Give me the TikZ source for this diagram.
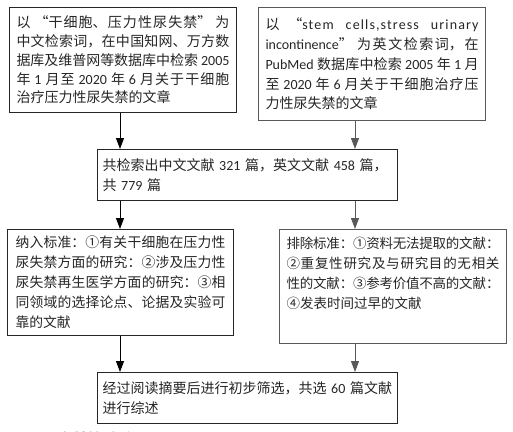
\documentclass[tikz,border=0pt]{standalone}
\usepackage{fontspec}
\setmainfont{Noto Sans CJK SC}
\newfontfamily\latf{Carlito}
\newfontfamily\latsp[LetterSpace=8]{Carlito}
\newcommand\mylat[1]{{\latf #1}}
\newcommand\mylatsp[1]{{\latsp #1}}
\usetikzlibrary{arrows.meta}
\XeTeXlinebreaklocale "zh"
\XeTeXlinebreakskip=0pt plus 2pt minus 1pt
\tikzset{
  box/.style={draw=black!85, line width=1pt, anchor=north west, inner ysep=0pt,
    align=justify, text=black!85},
  boxr/.style={box, draw=black!65},
  arr/.style={-{Triangle[length=11pt,width=8pt]}, line width=1pt, draw=black},
  arrr/.style={arr, draw=black!65},
}
\begin{document}
\begin{tikzpicture}[x=1pt,y=-1pt]
\fill[white] (0,0) rectangle (513,431);
\useasboundingbox (0,0) rectangle (513,431);
\coordinate (xl) at (120,0);
\coordinate (xr) at (355,0);

\node[box, inner xsep=7pt, text width=213pt, minimum width=227pt, minimum height=105pt,
  font=\fontsize{14}{18.8}\selectfont] (b1) at (9,7)
  {以 “干细胞、压力性尿失禁” 为\linebreak 中文检索词，在中国知网、万方数\linebreak 据库及维普网等数据库中检索 \mylat{2005}\linebreak 年 \mylat{1} 月至 \mylat{2020} 年 \mylat{6} 月关于干细胞\linebreak 治疗压力性尿失禁的文章};

\node[boxr, inner xsep=7pt, text width=213pt, minimum width=227pt, minimum height=113pt,
  font=\fontsize{14}{19.75}\selectfont] (b2) at (258,7)
  {以 “\mylatsp{stem cells,stress urinary}\linebreak \mylat{incontinence}” 为英文检索词，在\linebreak \mylat{PubMed} 数据库中检索 \mylat{2005} 年 \mylat{1} 月\linebreak 至 \mylat{2020} 年 \mylat{6} 月关于干细胞治疗压\linebreak 力性尿失禁的文章};

\node[box, align=left, inner xsep=5pt, text width=290pt, minimum width=300pt, minimum height=51pt,
  font=\fontsize{14}{20}\selectfont] (b3) at (97,149)
  {共检索出中文文献 \mylat{321} 篇，英文文献 \mylat{458} 篇，\\ 共 \mylat{779} 篇};

\node[box, inner xsep=8pt, text width=210pt, minimum width=226pt, minimum height=106pt,
  font=\fontsize{13.8}{20}\selectfont] (b4) at (7,229)
  {纳入标准：①有关干细胞在压力性\linebreak 尿失禁方面的研究：②涉及压力性\linebreak 尿失禁再生医学方面的研究：③相\linebreak 同领域的选择论点、论据及实验可\linebreak 靠的文献};

\node[boxr, inner xsep=7pt, text width=213pt, minimum width=227pt, minimum height=114pt,
  font=\fontsize{13.5}{20}\selectfont] (b5) at (279,229)
  {排除标准：①资料无法提取的文献：\linebreak ②重复性研究及与研究目的无相关\linebreak 性的文献：③参考价值不高的文献：\linebreak ④发表时间过早的文献\par\vspace*{26pt}};

\node[box, align=left, inner xsep=5pt, text width=290pt, minimum width=300pt, minimum height=51pt,
  font=\fontsize{14}{20}\selectfont] (b6) at (97,372)
  {经过阅读摘要后进行初步筛选，共选 \mylat{60} 篇文献\\ 进行综述};

\draw[arr] (b1.south -| xl) -- (b3.north -| xl);
\draw[arrr] (b2.south -| xr) -- (b3.north -| xr);
\draw[arr] (b3.south -| xl) -- (b4.north -| xl);
\draw[arrr] (b3.south -| xr) -- (b5.north -| xr);
\draw[arr] (b4.south -| xl) -- (b6.north -| xl);
\draw[arrr] (b5.south -| xr) -- (b6.north -| xr);

\begin{scope}
\clip (0,0) rectangle (513,431);
\node[anchor=base west, inner sep=0pt, text=black!75, font=\fontsize{15.5}{15.5}\selectfont\bfseries] (cap) at (6,445)
  {图\hspace{18pt}\mylat{1}\hspace{9pt}文献筛选流程图};
\end{scope}
\end{tikzpicture}
\end{document}
